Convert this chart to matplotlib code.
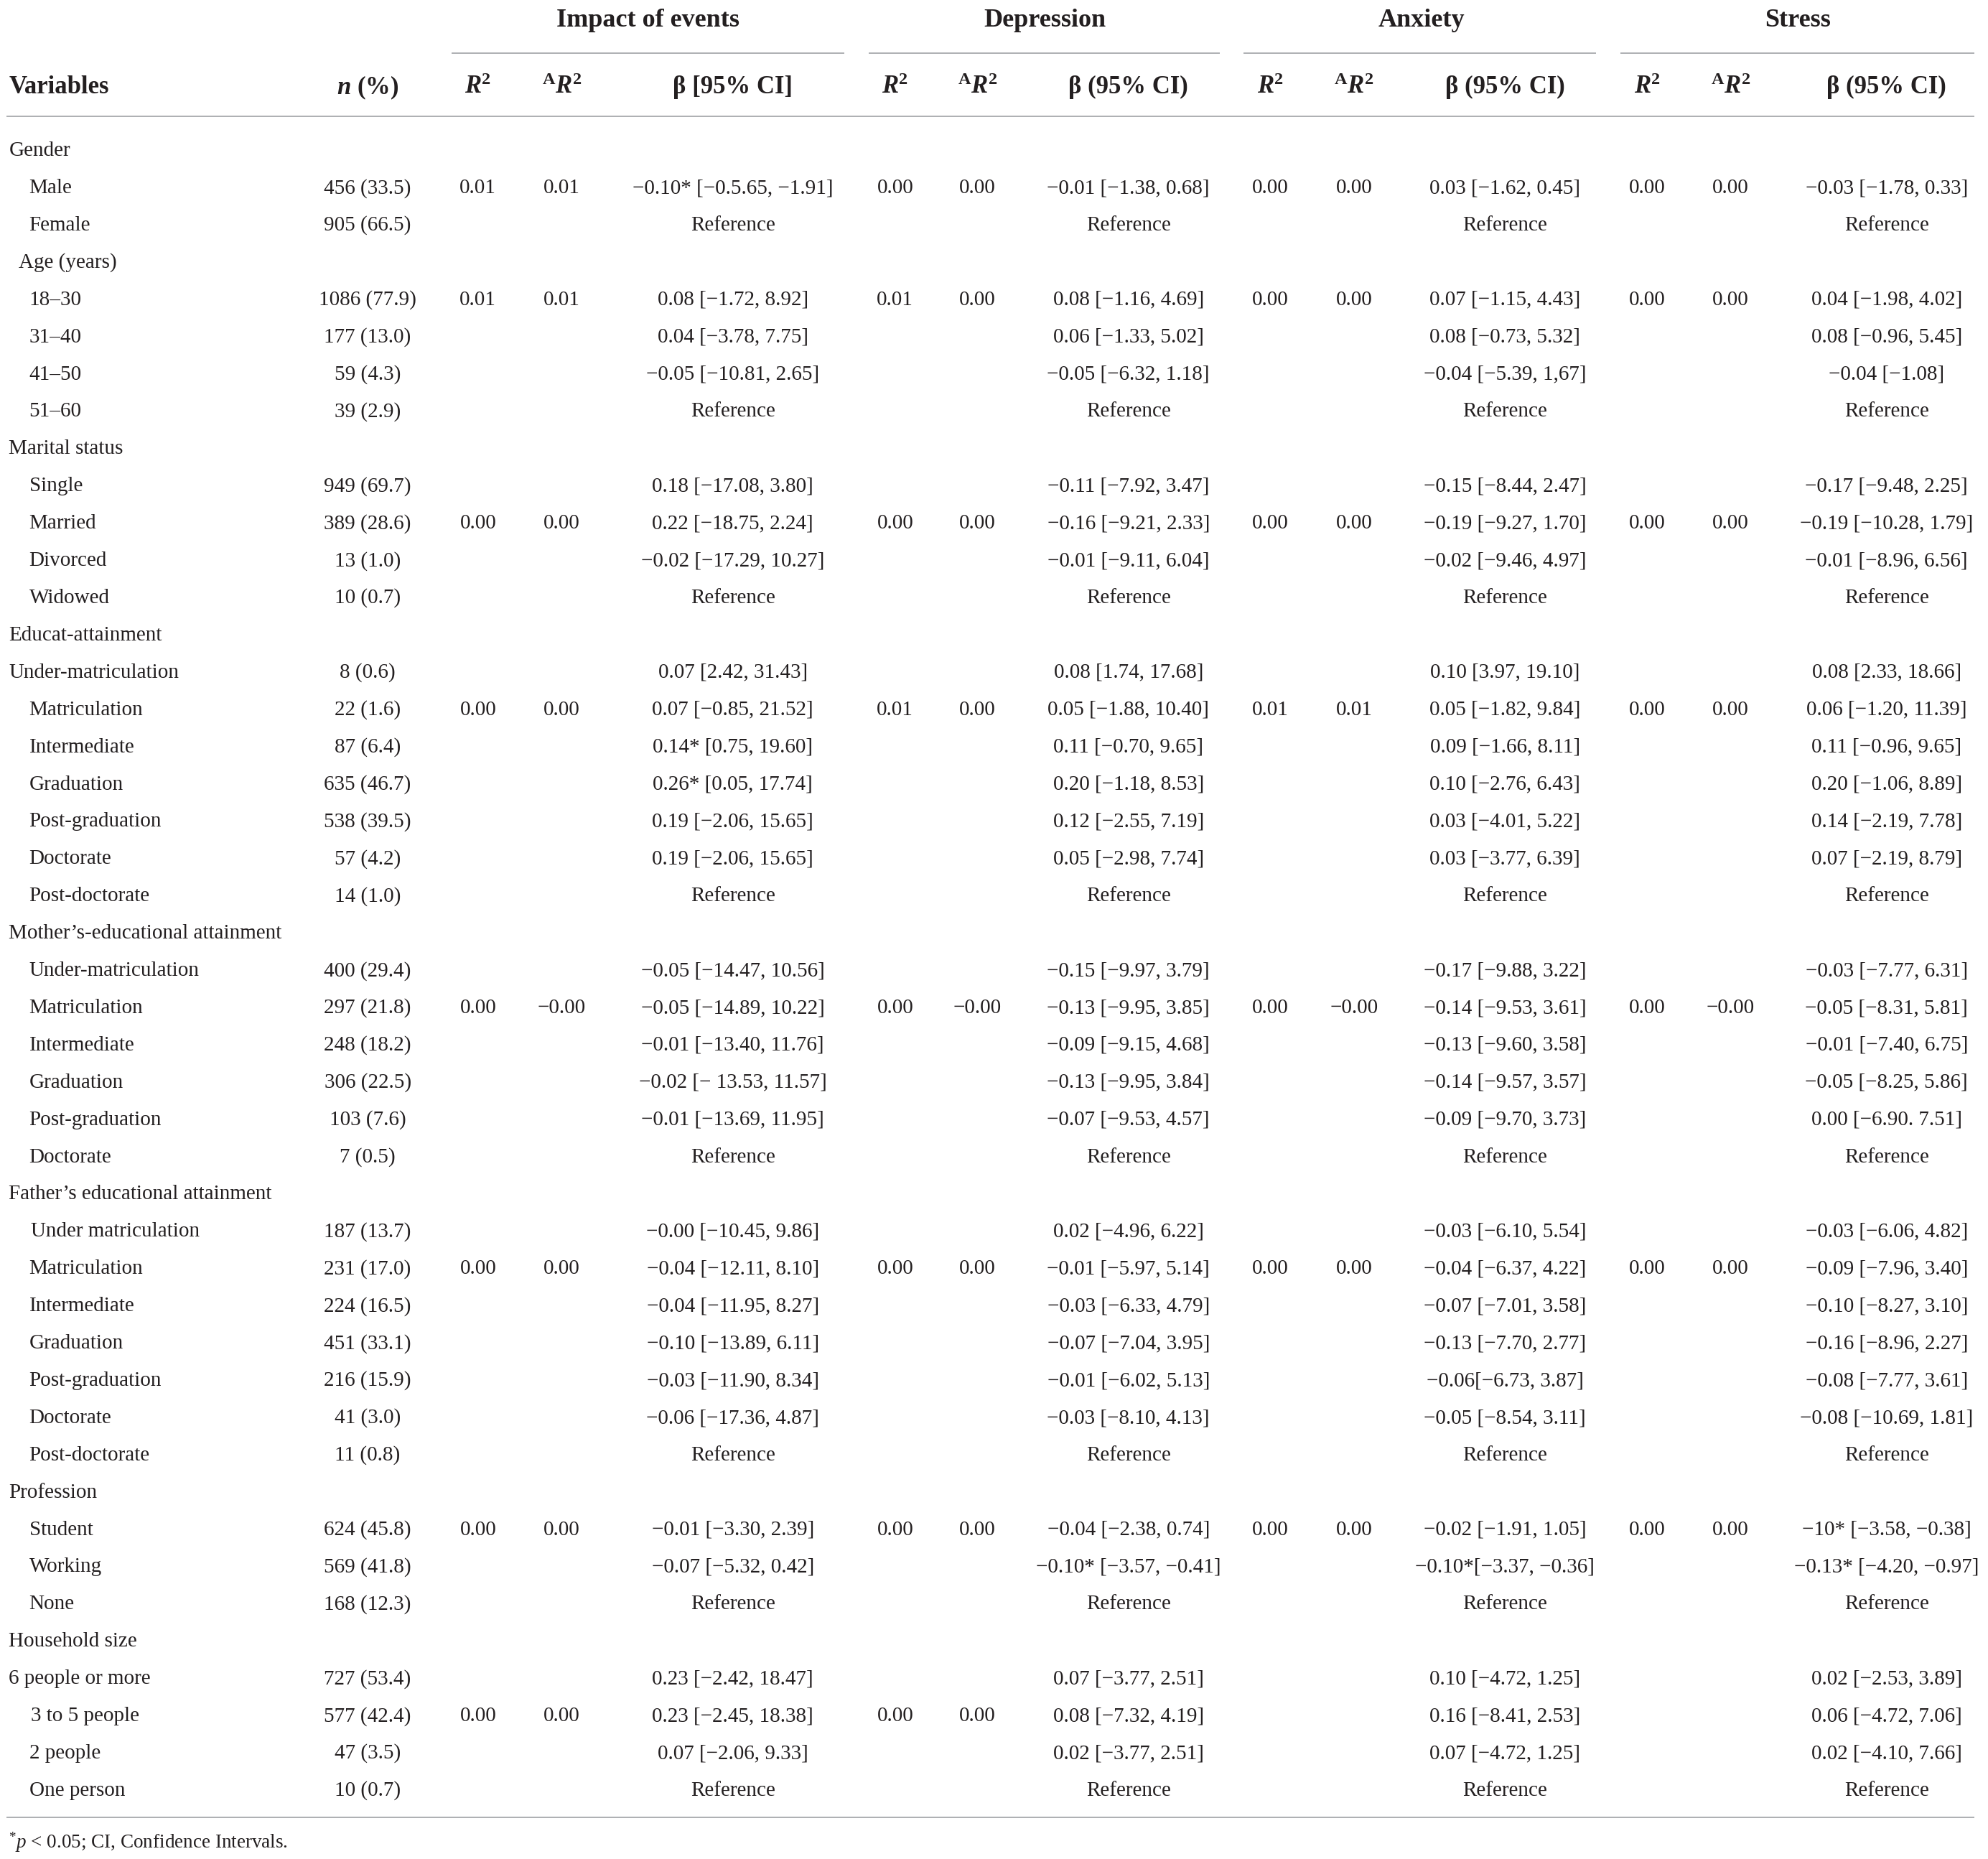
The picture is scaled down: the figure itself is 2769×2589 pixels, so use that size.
import matplotlib
matplotlib.use('Agg')
import matplotlib.pyplot as plt

plt.rcParams['font.family'] = ['Liberation Serif', 'DejaVu Serif']
plt.rcParams['mathtext.fontset'] = 'custom'
plt.rcParams['mathtext.rm'] = 'Liberation Serif'
plt.rcParams['mathtext.it'] = 'Liberation Serif:italic'
plt.rcParams['mathtext.bf'] = 'Liberation Serif:bold'
plt.rcParams['mathtext.bfit'] = 'Liberation Serif:italic:bold'

# ---------------- data ----------------
labels = [
    "Gender", "Male", "Female",
    "Age (years)", "18\u201330", "31\u201340", "41\u201350", "51\u201360",
    "Marital status", "Single", "Married", "Divorced", "Widowed",
    "Educat-attainment", "Under-matriculation", "Matriculation", "Intermediate",
    "Graduation", "Post-graduation", "Doctorate", "Post-doctorate",
    "Mother\u2019s-educational attainment", "Under-matriculation", "Matriculation",
    "Intermediate", "Graduation", "Post-graduation", "Doctorate",
    "Father\u2019s educational attainment", "Under matriculation", "Matriculation",
    "Intermediate", "Graduation", "Post-graduation", "Doctorate", "Post-doctorate",
    "Profession", "Student", "Working", "None",
    "Household size", "6 people or more", "3 to 5 people", "2 people", "One person",
]
# indentation level of each label (0 = group heading)
indent = [0, 1, 1,
          0.5, 1, 1, 1, 1,
          0, 1, 1, 1, 1,
          0, 0, 1, 1, 1, 1, 1, 1,
          0, 1, 1, 1, 1, 1, 1,
          0, 1.1, 1, 1, 1, 1, 1, 1,
          0, 1, 1, 1,
          0, 0, 1.1, 1, 1]

n_pct = ["", "456 (33.5)", "905 (66.5)",
         "", "1086 (77.9)", "177 (13.0)", "59 (4.3)", "39 (2.9)",
         "", "949 (69.7)", "389 (28.6)", "13 (1.0)", "10 (0.7)",
         "", "8 (0.6)", "22 (1.6)", "87 (6.4)", "635 (46.7)", "538 (39.5)", "57 (4.2)", "14 (1.0)",
         "", "400 (29.4)", "297 (21.8)", "248 (18.2)", "306 (22.5)", "103 (7.6)", "7 (0.5)",
         "", "187 (13.7)", "231 (17.0)", "224 (16.5)", "451 (33.1)", "216 (15.9)", "41 (3.0)", "11 (0.8)",
         "", "624 (45.8)", "569 (41.8)", "168 (12.3)",
         "", "727 (53.4)", "577 (42.4)", "47 (3.5)", "10 (0.7)"]

outcomes = ["Impact of events", "Depression", "Anxiety", "Stress"]
beta_headers = ["\u03b2 [95% CI]", "\u03b2 (95% CI)", "\u03b2 (95% CI)", "\u03b2 (95% CI)"]

# rows (0-based) that carry the model R2 / adjusted R2
r2_rows = [1, 4, 10, 15, 23, 30, 37, 42]
r2_impact = ["0.01", "0.01", "0.00", "0.00", "0.00", "0.00", "0.00", "0.00"]
ar2_impact = ["0.01", "0.01", "0.00", "0.00", "\u22120.00", "0.00", "0.00", "0.00"]
r2_depression = ["0.00", "0.01", "0.00", "0.01", "0.00", "0.00", "0.00", "0.00"]
ar2_depression = ["0.00", "0.00", "0.00", "0.00", "\u22120.00", "0.00", "0.00", "0.00"]
r2_anxiety = ["0.00", "0.00", "0.00", "0.01", "0.00", "0.00", "0.00", ""]
ar2_anxiety = ["0.00", "0.00", "0.00", "0.01", "\u22120.00", "0.00", "0.00", ""]
r2_stress = ["0.00", "0.00", "0.00", "0.00", "0.00", "0.00", "0.00", ""]
ar2_stress = ["0.00", "0.00", "0.00", "0.00", "\u22120.00", "0.00", "0.00", ""]

M = "\u2212"
R = "Reference"
beta_impact = [
    "", f"{M}0.10* [{M}0.5.65, {M}1.91]", R,
    "", f"0.08 [{M}1.72, 8.92]", f"0.04 [{M}3.78, 7.75]", f"{M}0.05 [{M}10.81, 2.65]", R,
    "", f"0.18 [{M}17.08, 3.80]", f"0.22 [{M}18.75, 2.24]", f"{M}0.02 [{M}17.29, 10.27]", R,
    "", "0.07 [2.42, 31.43]", f"0.07 [{M}0.85, 21.52]", "0.14* [0.75, 19.60]", "0.26* [0.05, 17.74]",
    f"0.19 [{M}2.06, 15.65]", f"0.19 [{M}2.06, 15.65]", R,
    "", f"{M}0.05 [{M}14.47, 10.56]", f"{M}0.05 [{M}14.89, 10.22]", f"{M}0.01 [{M}13.40, 11.76]",
    f"{M}0.02 [{M} 13.53, 11.57]", f"{M}0.01 [{M}13.69, 11.95]", R,
    "", f"{M}0.00 [{M}10.45, 9.86]", f"{M}0.04 [{M}12.11, 8.10]", f"{M}0.04 [{M}11.95, 8.27]",
    f"{M}0.10 [{M}13.89, 6.11]", f"{M}0.03 [{M}11.90, 8.34]", f"{M}0.06 [{M}17.36, 4.87]", R,
    "", f"{M}0.01 [{M}3.30, 2.39]", f"{M}0.07 [{M}5.32, 0.42]", R,
    "", f"0.23 [{M}2.42, 18.47]", f"0.23 [{M}2.45, 18.38]", f"0.07 [{M}2.06, 9.33]", R,
]
beta_depression = [
    "", f"{M}0.01 [{M}1.38, 0.68]", R,
    "", f"0.08 [{M}1.16, 4.69]", f"0.06 [{M}1.33, 5.02]", f"{M}0.05 [{M}6.32, 1.18]", R,
    "", f"{M}0.11 [{M}7.92, 3.47]", f"{M}0.16 [{M}9.21, 2.33]", f"{M}0.01 [{M}9.11, 6.04]", R,
    "", "0.08 [1.74, 17.68]", f"0.05 [{M}1.88, 10.40]", f"0.11 [{M}0.70, 9.65]", f"0.20 [{M}1.18, 8.53]",
    f"0.12 [{M}2.55, 7.19]", f"0.05 [{M}2.98, 7.74]", R,
    "", f"{M}0.15 [{M}9.97, 3.79]", f"{M}0.13 [{M}9.95, 3.85]", f"{M}0.09 [{M}9.15, 4.68]",
    f"{M}0.13 [{M}9.95, 3.84]", f"{M}0.07 [{M}9.53, 4.57]", R,
    "", f"0.02 [{M}4.96, 6.22]", f"{M}0.01 [{M}5.97, 5.14]", f"{M}0.03 [{M}6.33, 4.79]",
    f"{M}0.07 [{M}7.04, 3.95]", f"{M}0.01 [{M}6.02, 5.13]", f"{M}0.03 [{M}8.10, 4.13]", R,
    "", f"{M}0.04 [{M}2.38, 0.74]", f"{M}0.10* [{M}3.57, {M}0.41]", R,
    "", f"0.07 [{M}3.77, 2.51]", f"0.08 [{M}7.32, 4.19]", f"0.02 [{M}3.77, 2.51]", R,
]
beta_anxiety = [
    "", f"0.03 [{M}1.62, 0.45]", R,
    "", f"0.07 [{M}1.15, 4.43]", f"0.08 [{M}0.73, 5.32]", f"{M}0.04 [{M}5.39, 1,67]", R,
    "", f"{M}0.15 [{M}8.44, 2.47]", f"{M}0.19 [{M}9.27, 1.70]", f"{M}0.02 [{M}9.46, 4.97]", R,
    "", "0.10 [3.97, 19.10]", f"0.05 [{M}1.82, 9.84]", f"0.09 [{M}1.66, 8.11]", f"0.10 [{M}2.76, 6.43]",
    f"0.03 [{M}4.01, 5.22]", f"0.03 [{M}3.77, 6.39]", R,
    "", f"{M}0.17 [{M}9.88, 3.22]", f"{M}0.14 [{M}9.53, 3.61]", f"{M}0.13 [{M}9.60, 3.58]",
    f"{M}0.14 [{M}9.57, 3.57]", f"{M}0.09 [{M}9.70, 3.73]", R,
    "", f"{M}0.03 [{M}6.10, 5.54]", f"{M}0.04 [{M}6.37, 4.22]", f"{M}0.07 [{M}7.01, 3.58]",
    f"{M}0.13 [{M}7.70, 2.77]", f"{M}0.06[{M}6.73, 3.87]", f"{M}0.05 [{M}8.54, 3.11]", R,
    "", f"{M}0.02 [{M}1.91, 1.05]", f"{M}0.10*[{M}3.37, {M}0.36]", R,
    "", f"0.10 [{M}4.72, 1.25]", f"0.16 [{M}8.41, 2.53]", f"0.07 [{M}4.72, 1.25]", R,
]
beta_stress = [
    "", f"{M}0.03 [{M}1.78, 0.33]", R,
    "", f"0.04 [{M}1.98, 4.02]", f"0.08 [{M}0.96, 5.45]", f"{M}0.04 [{M}1.08]", R,
    "", f"{M}0.17 [{M}9.48, 2.25]", f"{M}0.19 [{M}10.28, 1.79]", f"{M}0.01 [{M}8.96, 6.56]", R,
    "", "0.08 [2.33, 18.66]", f"0.06 [{M}1.20, 11.39]", f"0.11 [{M}0.96, 9.65]", f"0.20 [{M}1.06, 8.89]",
    f"0.14 [{M}2.19, 7.78]", f"0.07 [{M}2.19, 8.79]", R,
    "", f"{M}0.03 [{M}7.77, 6.31]", f"{M}0.05 [{M}8.31, 5.81]", f"{M}0.01 [{M}7.40, 6.75]",
    f"{M}0.05 [{M}8.25, 5.86]", f"0.00 [{M}6.90. 7.51]", R,
    "", f"{M}0.03 [{M}6.06, 4.82]", f"{M}0.09 [{M}7.96, 3.40]", f"{M}0.10 [{M}8.27, 3.10]",
    f"{M}0.16 [{M}8.96, 2.27]", f"{M}0.08 [{M}7.77, 3.61]", f"{M}0.08 [{M}10.69, 1.81]", R,
    "", f"{M}10* [{M}3.58, {M}0.38]", f"{M}0.13* [{M}4.20, {M}0.97]", R,
    "", f"0.02 [{M}2.53, 3.89]", f"0.06 [{M}4.72, 7.06]", f"0.02 [{M}4.10, 7.66]", R,
]

footnote = r"${}^{*}\mathit{p}$ < 0.05; CI, Confidence Intervals."

r2_cols = [r2_impact, r2_depression, r2_anxiety, r2_stress]
ar2_cols = [ar2_impact, ar2_depression, ar2_anxiety, ar2_stress]
beta_cols = [beta_impact, beta_depression, beta_anxiety, beta_stress]

# ---------------- layout ----------------
W, H = 1568, 1466
fig = plt.figure(figsize=(27.69, 25.89), dpi=100)
ax = fig.add_axes([0, 0, 1, 1])
ax.set_xlim(0, W)
ax.set_ylim(H, 0)
ax.axis('off')

TXT = '#231f20'
LINE = '#a7a9ac'
BODY = 21
HEAD = 25
GROUP = 26
FOOT = 19.5

x_label = 7
indent_px = 16
x_n = 290
x_r2 = [377, 706, 1002, 1299]
x_ar2 = [443, 771, 1068, 1365]
x_beta = [578, 890, 1187, 1488]
x_group = [511, 824, 1121, 1418]
underline = [(356, 666), (685, 962), (981, 1259), (1278, 1557)]

y_group = 16
y_uline = 42
y_head = 69
y_hline = 92
y0, dy = 119.0, 29.39
y_bline = 1433
y_foot = 1453

kw = dict(color=TXT, va='center')

# group headers
for g, xc, (xa, xb) in zip(outcomes, x_group, underline):
    ax.text(xc, y_group, g, ha='center', fontsize=GROUP, fontweight='bold', **kw)
    ax.plot([xa, xb], [y_uline, y_uline], color=LINE, lw=1.3, solid_capstyle='butt')

# column headers
ax.text(x_label, y_head, "Variables", ha='left', fontsize=HEAD, fontweight='bold', **kw)
ax.text(x_n, y_head, r"$\mathbfit{n}$ (%)", ha='center', fontsize=HEAD, fontweight='bold', **kw)
for i in range(4):
    ax.text(x_r2[i], y_head, r"$\mathbfit{R}^{\mathbf{2}}$", ha='center', fontsize=HEAD, **kw)
    ax.text(x_ar2[i], y_head, r"${}^{\mathbf{A}}\mathbfit{R}^{\mathbf{2}}$", ha='center', fontsize=HEAD, **kw)
    ax.text(x_beta[i], y_head, beta_headers[i], ha='center', fontsize=HEAD, fontweight='bold', **kw)

ax.plot([5, 1557], [y_hline, y_hline], color=LINE, lw=1.3, solid_capstyle='butt')

# body rows
for r, lab in enumerate(labels):
    y = y0 + r * dy
    ax.text(x_label + indent[r] * indent_px, y, lab, ha='left', fontsize=BODY, **kw)
    if n_pct[r]:
        ax.text(x_n, y, n_pct[r], ha='center', fontsize=BODY, **kw)
    for i in range(4):
        b = beta_cols[i][r]
        if b:
            ax.text(x_beta[i], y, b, ha='center', fontsize=BODY, **kw)

for k, r in enumerate(r2_rows):
    y = y0 + r * dy
    for i in range(4):
        if r2_cols[i][k]:
            ax.text(x_r2[i], y, r2_cols[i][k], ha='center', fontsize=BODY, **kw)
        if ar2_cols[i][k]:
            ax.text(x_ar2[i], y, ar2_cols[i][k], ha='center', fontsize=BODY, **kw)

ax.plot([5, 1557], [y_bline, y_bline], color=LINE, lw=1.3, solid_capstyle='butt')
ax.text(x_label, y_foot, footnote, ha='left', fontsize=FOOT, **kw)

fig.savefig('out.png', dpi=100, facecolor='white')
